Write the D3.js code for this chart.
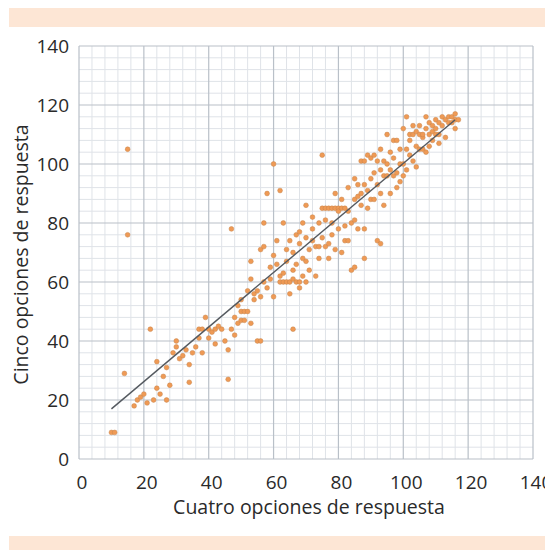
<!DOCTYPE html>
<html>
<head>
<meta charset="utf-8">
<script src="https://cdn.jsdelivr.net/npm/d3@7"></script>
<style>
  body { margin: 0; background: #fff; }
  svg { display: block; }
  .tick-label { font-family: "Open Sans", sans-serif; font-size: 19px; fill: #2a2a2a; }
  .axis-title { font-family: "Open Sans", sans-serif; font-size: 19.5px; fill: #2a2a2a; }
</style>
</head>
<body>
<svg id="chart" width="545" height="550"></svg>
<script>
// Axis ticks
const xTicks = [0, 20, 40, 60, 80, 100, 120, 140];
const yTicks = [0, 20, 40, 60, 80, 100, 120, 140];

// Points: [cuatro opciones, cinco opciones]
const puntos = [
  [10, 9], [11, 9], [15, 105], [15, 76], [14, 29], [17, 18], [18, 20], [19, 21], [20, 22], [21, 19],
  [22, 44], [23, 20], [24, 24], [24, 33], [25, 22], [26, 28], [27, 20], [27, 31], [28, 25], [29, 36],
  [30, 38], [30, 40], [31, 34], [32, 35], [33, 37], [34, 26], [34, 32], [35, 36], [36, 38], [37, 41],
  [37, 44], [38, 44], [38, 36], [39, 48], [40, 44], [40, 41], [41, 43], [42, 44], [42, 39], [43, 45],
  [44, 44], [45, 40], [46, 27], [46, 37], [47, 78], [47, 44], [48, 48], [48, 42], [49, 52], [49, 46],
  [50, 54], [50, 50], [50, 47], [51, 47], [51, 50], [52, 57], [52, 50], [53, 61], [53, 67], [53, 46],
  [54, 54], [54, 56], [55, 40], [55, 57], [56, 40], [56, 71], [56, 55], [57, 72], [57, 80], [57, 60],
  [58, 90], [58, 58], [59, 61], [59, 65], [60, 100], [60, 69], [60, 55], [61, 74], [61, 66], [62, 62],
  [62, 91], [62, 60], [63, 80], [63, 63], [63, 60], [64, 67], [64, 71], [64, 60], [65, 74], [65, 60],
  [65, 56], [66, 44], [66, 61], [66, 64], [66, 70], [67, 66], [67, 60], [67, 76], [68, 73], [68, 77],
  [68, 60], [68, 58], [69, 62], [69, 80], [69, 68], [70, 67], [70, 86], [70, 60], [70, 75], [71, 71],
  [71, 64], [72, 78], [72, 74], [72, 82], [73, 62], [73, 72], [74, 80], [74, 68], [74, 72], [75, 103],
  [75, 75], [75, 85], [76, 81], [76, 72], [76, 85], [77, 85], [77, 73], [77, 68], [78, 76], [78, 80],
  [78, 85], [79, 71], [79, 85], [79, 90], [80, 85], [80, 84], [80, 78], [81, 88], [81, 85], [81, 70],
  [82, 74], [82, 79], [82, 85], [83, 84], [83, 74], [83, 92], [84, 64], [84, 80], [85, 88], [85, 81],
  [85, 95], [85, 65], [86, 93], [86, 89], [86, 78], [87, 86], [87, 101], [87, 90], [88, 78], [88, 101],
  [88, 93], [88, 68], [89, 91], [89, 103], [89, 85], [90, 95], [90, 102], [90, 88], [91, 88], [91, 97],
  [91, 103], [92, 74], [92, 93], [92, 101], [93, 90], [93, 105], [93, 98], [93, 73], [94, 101], [94, 96],
  [94, 86], [95, 110], [95, 96], [95, 100], [96, 90], [96, 98], [96, 104], [97, 102], [97, 96], [97, 108],
  [98, 97], [98, 108], [98, 92], [99, 100], [99, 94], [99, 105], [100, 112], [100, 100], [100, 96], [101, 105],
  [101, 116], [101, 98], [102, 103], [102, 108], [102, 110], [103, 101], [103, 110], [103, 113], [104, 111], [104, 106],
  [104, 99], [105, 113], [105, 110], [105, 105], [106, 105], [106, 109], [106, 110], [107, 112], [107, 116], [107, 104],
  [108, 106], [108, 110], [108, 114], [109, 111], [109, 113], [109, 108], [110, 115], [110, 112], [110, 110], [111, 114],
  [111, 110], [111, 107], [112, 116], [112, 113], [113, 109], [113, 115], [114, 116], [114, 114], [115, 116], [115, 114],
  [116, 115], [116, 117], [116, 112], [117, 115]
];

// Regression line end points
const tendencia = [[10, 17], [116, 115]];

const svg = d3.select('#chart');

// Peach bands at top and bottom
svg.append('rect').attr('x', 9).attr('y', 8).attr('width', 536).attr('height', 19).attr('fill', '#fde6d5');
svg.append('rect').attr('x', 9).attr('y', 536).attr('width', 536).attr('height', 14).attr('fill', '#fde6d5');

const margin = { left: 79, top: 46, right: 12, bottom: 91 };
const width = 545 - margin.left - margin.right;
const height = 550 - margin.top - margin.bottom;

const x = d3.scaleLinear().domain([0, 140]).range([0, width]);
const y = d3.scaleLinear().domain([0, 140]).range([height, 0]);

const chart = svg.append('g').attr('transform', `translate(${margin.left},${margin.top})`);

// Minor grid every 4, major every 20
const minor = d3.range(0, 141, 4).filter((v) => v % 20 !== 0);
chart.append('g').selectAll('line.vmin').data(minor).join('line')
  .attr('x1', (d) => x(d)).attr('x2', (d) => x(d))
  .attr('y1', 0).attr('y2', height)
  .attr('stroke', '#dfe3e8').attr('stroke-width', 1);
chart.append('g').selectAll('line.hmin').data(minor).join('line')
  .attr('y1', (d) => y(d)).attr('y2', (d) => y(d))
  .attr('x1', 0).attr('x2', width)
  .attr('stroke', '#dfe3e8').attr('stroke-width', 1);

chart.append('g').selectAll('line').data(xTicks).join('line')
  .attr('x1', (d) => x(d)).attr('x2', (d) => x(d))
  .attr('y1', 0).attr('y2', height)
  .attr('stroke', '#b9c0c8').attr('stroke-width', 1.2);
chart.append('g').selectAll('line').data(yTicks).join('line')
  .attr('y1', (d) => y(d)).attr('y2', (d) => y(d))
  .attr('x1', 0).attr('x2', width)
  .attr('stroke', '#b9c0c8').attr('stroke-width', 1.2);

// Tick labels
chart.append('g').selectAll('text').data(xTicks).join('text')
  .attr('class', 'tick-label')
  .attr('x', (d) => x(d) + 3)
  .attr('y', height + 30)
  .attr('text-anchor', 'middle')
  .text((d) => d);
chart.append('g').selectAll('text').data(yTicks).join('text')
  .attr('class', 'tick-label')
  .attr('x', -10)
  .attr('y', (d) => y(d) + 7)
  .attr('text-anchor', 'end')
  .text((d) => d);

// Axis titles
chart.append('text')
  .attr('class', 'axis-title')
  .attr('x', x(70) + 3)
  .attr('y', height + 55)
  .attr('text-anchor', 'middle')
  .text('Cuatro opciones de respuesta');
chart.append('text')
  .attr('class', 'axis-title')
  .attr('transform', 'rotate(-90)')
  .attr('x', -(y(70) + 2))
  .attr('y', -51)
  .attr('text-anchor', 'middle')
  .text('Cinco opciones de respuesta');

// Points
chart.append('g').selectAll('circle').data(puntos).join('circle')
  .attr('cx', (d) => x(d[0]))
  .attr('cy', (d) => y(d[1]))
  .attr('r', 2.4)
  .attr('fill', '#ef9a55')
  .attr('stroke', '#c7844c')
  .attr('stroke-width', 0.5);

// Trend line
chart.append('path')
  .datum(tendencia)
  .attr('fill', 'none')
  .attr('stroke', '#555a60')
  .attr('stroke-width', 1.4)
  .attr('d', d3.line().x((d) => x(d[0])).y((d) => y(d[1])));
</script>
</body>
</html>
